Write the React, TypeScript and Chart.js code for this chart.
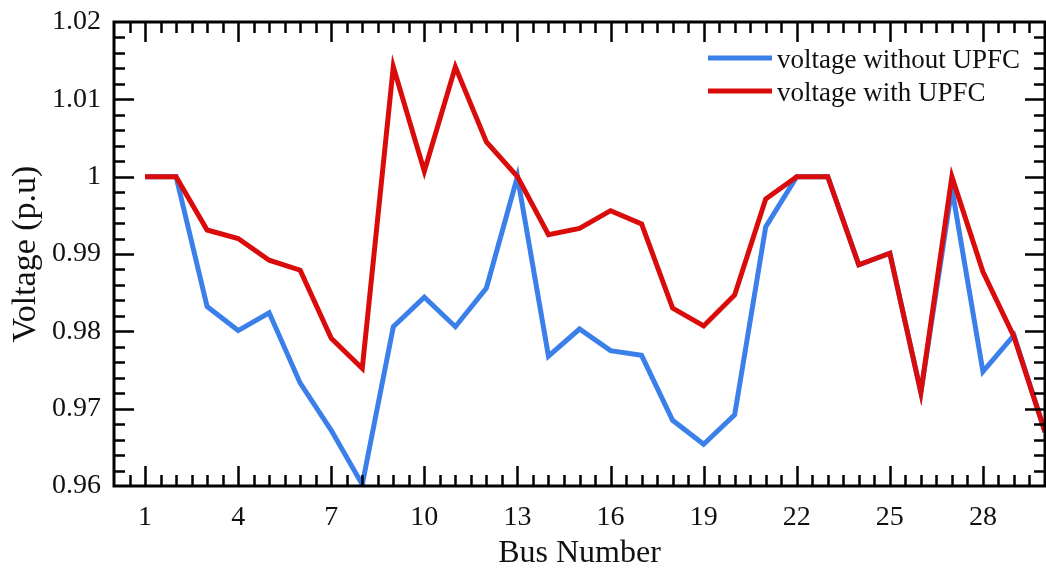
import React, { useEffect, useRef } from 'react';
import { Chart, registerables } from 'chart.js';

Chart.register(...registerables);

const busNumbers = [1, 2, 3, 4, 5, 6, 7, 8, 9, 10, 11, 12, 13, 14, 15, 16, 17, 18, 19, 20, 21, 22, 23, 24, 25, 26, 27, 28, 29, 30];
const voltageWithout = [1.0, 1.0, 0.9832, 0.9801, 0.9824, 0.9733, 0.9672, 0.9602, 0.9806, 0.9844, 0.9806, 0.9856, 1.0, 0.9768, 0.9803, 0.9775, 0.9769, 0.9685, 0.9654, 0.9692, 0.9935, 1.0, 1.0, 0.9886, 0.9901, 0.9721, 0.9985, 0.9748, 0.9795, 0.967];
const voltageWith = [1.0, 1.0, 0.9931, 0.992, 0.9892, 0.9879, 0.9791, 0.9752, 1.0142, 1.0007, 1.0142, 1.0045, 1.0, 0.9925, 0.9933, 0.9956, 0.9939, 0.983, 0.9807, 0.9847, 0.9971, 1.0, 1.0, 0.9886, 0.9901, 0.9721, 1.0, 0.9877, 0.9793, 0.967];
const xTickValues = [1, 4, 7, 10, 13, 16, 19, 22, 25, 28];
const yTickValues = [0.96, 0.97, 0.98, 0.99, 1, 1.01, 1.02];
const xRange = [0, 30];
const yRange = [0.96, 1.02];
const xMinorStep = 0.5;
const yMinorStep = 0.002;
const seriesLabels = ['voltage without UPFC', 'voltage with UPFC'];
const xTitle = 'Bus Number';
const yTitle = 'Voltage (p.u)';

const BLUE = '#3b80ea';
const RED = '#da0b0b';
const FONT = "'Liberation Serif', 'Times New Roman', serif";

const framePlugin = {
  id: 'frameTicks',
  afterDraw(chart: any) {
    const { ctx, chartArea } = chart;
    const { left, right, top, bottom } = chartArea;
    const xs = chart.scales.x;
    const ys = chart.scales.y;
    ctx.save();
    ctx.strokeStyle = '#000';
    ctx.lineWidth = 3;
    ctx.lineCap = 'butt';
    ctx.strokeRect(left, top, right - left, bottom - top);
    const major = 20;
    const minor = 11;
    ctx.lineWidth = 2.5;
    ctx.beginPath();
    const nx = Math.round((xRange[1] - xRange[0]) / xMinorStep);
    for (let i = 1; i < nx; i++) {
      const v = xRange[0] + i * xMinorStep;
      const isMajor = xTickValues.some((t) => Math.abs(t - v) < 1e-9);
      const len = isMajor ? major : minor;
      const px = Math.round(xs.getPixelForValue(v)) + 0.5;
      ctx.moveTo(px, bottom);
      ctx.lineTo(px, bottom - len);
      ctx.moveTo(px, top);
      ctx.lineTo(px, top + len);
    }
    const ny = Math.round((yRange[1] - yRange[0]) / yMinorStep);
    for (let i = 1; i < ny; i++) {
      const v = yRange[0] + i * yMinorStep;
      const isMajor = yTickValues.some((t) => Math.abs(t - v) < 1e-9);
      const len = isMajor ? major : minor;
      const py = Math.round(ys.getPixelForValue(v)) + 0.5;
      ctx.moveTo(left, py);
      ctx.lineTo(left + len, py);
      ctx.moveTo(right, py);
      ctx.lineTo(right - len, py);
    }
    ctx.stroke();

    const colors = [BLUE, RED];
    const lx0 = 708;
    const lx1 = 772;
    const rows = [58, 91];
    ctx.font = `27px ${FONT}`;
    ctx.textBaseline = 'alphabetic';
    ctx.textAlign = 'left';
    seriesLabels.forEach((lab, i) => {
      ctx.strokeStyle = colors[i];
      ctx.lineWidth = 5;
      ctx.beginPath();
      ctx.moveTo(lx0, rows[i]);
      ctx.lineTo(lx1, rows[i]);
      ctx.stroke();
      ctx.fillStyle = '#111';
      ctx.fillText(lab, lx1 + 5, rows[i] + 10);
    });
    ctx.restore();
  },
};

export default function App() {
  const canvasRef = useRef<HTMLCanvasElement | null>(null);

  useEffect(() => {
    const canvas = canvasRef.current;
    if (!canvas) return;
    const chart = new Chart(canvas, {
      type: 'line',
      data: {
        labels: busNumbers,
        datasets: [
          {
            label: seriesLabels[1],
            data: busNumbers.map((b, i) => ({ x: b, y: voltageWith[i] })),
            borderColor: RED,
            backgroundColor: RED,
            borderWidth: 5,
            pointRadius: 0,
            tension: 0,
            borderJoinStyle: 'miter',
          },
          {
            label: seriesLabels[0],
            data: busNumbers.map((b, i) => ({ x: b, y: voltageWithout[i] })),
            borderColor: BLUE,
            backgroundColor: BLUE,
            borderWidth: 5,
            pointRadius: 0,
            tension: 0,
            borderJoinStyle: 'miter',
          },
        ],
      },
      options: {
        animation: false,
        responsive: false,
        maintainAspectRatio: false,
        devicePixelRatio: 1,
        layout: { padding: { left: 0, top: 22, right: 1, bottom: 0 } },
        plugins: {
          legend: { display: false },
          tooltip: { enabled: false },
        },
        scales: {
          x: {
            type: 'linear',
            min: xRange[0],
            max: xRange[1],
            afterBuildTicks: (axis: any) => {
              axis.ticks = xTickValues.map((v) => ({ value: v }));
            },
            afterFit: (axis: any) => {
              axis.height = 84;
              axis.paddingLeft = 0;
              axis.paddingRight = 0;
            },
            grid: { display: false, drawTicks: false },
            border: { display: false },
            ticks: {
              autoSkip: false,
              maxRotation: 0,
              padding: 15,
              color: '#111',
              font: { family: FONT, size: 28 },
              callback: (v: any) => String(v),
            },
            title: {
              display: true,
              text: xTitle,
              color: '#111',
              font: { family: FONT, size: 32, lineHeight: 1 },
              padding: { top: 0, bottom: 0 },
            },
          },
          y: {
            type: 'linear',
            min: yRange[0],
            max: yRange[1],
            afterBuildTicks: (axis: any) => {
              axis.ticks = yTickValues.map((v) => ({ value: v }));
            },
            afterFit: (axis: any) => {
              axis.width = 114;
              axis.paddingTop = 0;
              axis.paddingBottom = 0;
            },
            grid: { display: false, drawTicks: false },
            border: { display: false },
            ticks: {
              autoSkip: false,
              padding: 13,
              color: '#111',
              font: { family: FONT, size: 28 },
              callback: (v: any) => String(v),
            },
            title: {
              display: true,
              text: yTitle,
              color: '#111',
              font: { family: FONT, size: 34, lineHeight: 1 },
              padding: { top: 9, bottom: 0 },
            },
          },
        },
      },
      plugins: [framePlugin],
    } as any);
    return () => chart.destroy();
  }, []);

  return (
    <div style={{ position: 'absolute', left: 0, top: 0, width: 1046, height: 570, overflow: 'hidden', background: '#fff' }}>
      <canvas ref={canvasRef} width={1046} height={570} style={{ display: 'block', width: 1046, height: 570 }} />
    </div>
  );
}
